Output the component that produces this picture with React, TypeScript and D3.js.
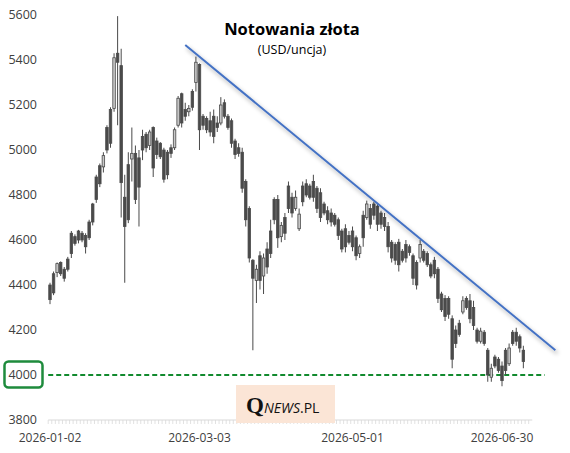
import * as d3 from 'd3';

// trading days (weekdays) starting 2026-01-02
const firstDay = new Date(2026, 0, 2);
const categoryCount = 136;
const fmt = d3.timeFormat('%Y-%m-%d');
const categories: string[] = d3
  .timeDay.range(firstDay, new Date(2026, 6, 31))
  .filter((d) => d.getDay() !== 0 && d.getDay() !== 6)
  .slice(0, categoryCount)
  .map((d) => fmt(d));

const xLabels = ['2026-01-02', '2026-03-03', '2026-05-01', '2026-06-30'];
const yTicks = [3800, 4000, 4200, 4400, 4600, 4800, 5000, 5200, 5400, 5600];

// [open, high, low, close]
const ohlc: [number, number, number, number][] = [
  [4400, 4410, 4315, 4335], [4450, 4460, 4355, 4365], [4455, 4500, 4435, 4495], [4500, 4505, 4440, 4450],
  [4470, 4480, 4415, 4430], [4515, 4525, 4460, 4470], [4630, 4640, 4520, 4540], [4615, 4625, 4575, 4585],
  [4640, 4645, 4585, 4600], [4630, 4640, 4590, 4600], [4620, 4630, 4540, 4570], [4680, 4690, 4600, 4610],
  [4760, 4765, 4665, 4680], [4880, 4890, 4765, 4780], [4930, 4940, 4835, 4850], [4925, 4990, 4900, 4975],
  [5100, 5110, 4985, 5000], [5180, 5190, 5010, 5030], [5185, 5430, 5170, 5410], [5430, 5595, 5110, 5390],
  [5375, 5450, 4700, 4855], [4790, 4890, 4410, 4660], [4935, 4990, 4675, 4690], [4960, 5100, 4860, 4985],
  [4985, 5020, 4760, 4780], [4965, 5000, 4660, 4835], [5060, 5090, 4955, 5000], [5070, 5080, 4990, 5010],
  [5020, 5090, 5000, 5080], [5100, 5105, 4880, 4920], [5040, 5055, 4960, 4980], [5030, 5035, 4960, 4970],
  [5000, 5010, 4855, 4870], [4990, 5000, 4870, 4890], [5010, 5025, 4965, 4985], [5010, 5100, 5000, 5090],
  [5110, 5240, 5100, 5230], [5250, 5255, 5100, 5120], [5180, 5210, 5130, 5150], [5170, 5200, 5150, 5185],
  [5260, 5270, 5175, 5190], [5300, 5415, 5260, 5390], [5380, 5385, 5000, 5090], [5150, 5160, 5090, 5110],
  [5140, 5150, 5075, 5090], [5130, 5170, 5060, 5080], [5150, 5180, 5030, 5060], [5120, 5150, 5080, 5100],
  [5120, 5235, 5110, 5200], [5210, 5225, 5140, 5150], [5150, 5160, 5090, 5100], [5130, 5140, 5010, 5030],
  [5040, 5050, 4960, 4980], [5010, 5030, 4970, 4985], [4990, 5010, 4810, 4830], [4860, 4870, 4660, 4690],
  [4740, 4750, 4500, 4520], [4510, 4515, 4110, 4430], [4420, 4490, 4320, 4470], [4530, 4550, 4380, 4420],
  [4440, 4540, 4360, 4520], [4560, 4590, 4450, 4480], [4640, 4690, 4520, 4540], [4780, 4790, 4670, 4690],
  [4780, 4800, 4565, 4610], [4615, 4680, 4590, 4665], [4700, 4720, 4600, 4630], [4840, 4860, 4720, 4740],
  [4790, 4810, 4700, 4720], [4740, 4820, 4730, 4790], [4650, 4740, 4640, 4715], [4840, 4860, 4750, 4770],
  [4850, 4870, 4790, 4800], [4840, 4850, 4780, 4790], [4860, 4890, 4770, 4790], [4830, 4840, 4720, 4740],
  [4810, 4830, 4680, 4700], [4760, 4770, 4710, 4720], [4730, 4750, 4670, 4690], [4720, 4740, 4660, 4680],
  [4710, 4720, 4660, 4670], [4690, 4700, 4600, 4620], [4640, 4650, 4545, 4560], [4650, 4670, 4545, 4570],
  [4620, 4640, 4580, 4590], [4640, 4660, 4550, 4570], [4610, 4620, 4510, 4530], [4540, 4580, 4520, 4570],
  [4710, 4730, 4570, 4610], [4700, 4775, 4690, 4760], [4740, 4760, 4650, 4670], [4760, 4770, 4690, 4710],
  [4750, 4765, 4640, 4670], [4720, 4730, 4650, 4670], [4700, 4720, 4640, 4660], [4660, 4680, 4545, 4570],
  [4590, 4600, 4500, 4520], [4580, 4590, 4490, 4510], [4590, 4605, 4460, 4490], [4550, 4560, 4500, 4510],
  [4580, 4600, 4500, 4520], [4570, 4580, 4530, 4545], [4530, 4540, 4400, 4430], [4500, 4510, 4380, 4400],
  [4520, 4600, 4500, 4580], [4550, 4560, 4500, 4510], [4540, 4550, 4480, 4490], [4490, 4500, 4430, 4440],
  [4510, 4525, 4430, 4450], [4470, 4480, 4320, 4340], [4360, 4370, 4280, 4290], [4340, 4355, 4240, 4260],
  [4340, 4350, 4250, 4270], [4250, 4265, 4030, 4070], [4200, 4220, 4120, 4140], [4230, 4245, 4170, 4180],
  [4280, 4350, 4270, 4330], [4340, 4350, 4290, 4300], [4330, 4360, 4230, 4250], [4300, 4330, 4200, 4220],
  [4200, 4210, 4140, 4150], [4150, 4210, 4140, 4195], [4190, 4200, 4130, 4140], [4110, 4120, 3970, 4000],
  [3990, 4050, 3970, 4030], [4080, 4090, 4030, 4040], [4070, 4080, 4010, 4020], [4040, 4060, 3950, 3975],
  [4110, 4120, 4000, 4020], [4050, 4140, 4040, 4120], [4190, 4200, 4130, 4140], [4190, 4210, 4130, 4150],
  [4170, 4180, 4100, 4120], [4110, 4130, 4030, 4060],
];

// trend line anchors: [category index, price]
const trendLine: [number, number][] = [[38, 5467], [142, 4110]];
const supportLevel = 4000;

const W = 570;
const H = 453;
const font = '"Open Sans", "Liberation Sans", sans-serif';
const ink = '#4a4a4a';

export default function App() {
  const x = d3.scaleLinear().domain([0, 127]).range([50, 502]);
  const y = d3.scaleLinear().domain([3800, 5600]).range([420, 15]);
  const bodyW = 2.5;

  const axisY = y(3800);
  const trend = d3
    .line<[number, number]>()
    .x((d) => x(d[0]))
    .y((d) => y(d[1]))(trendLine) || '';

  return (
    <svg width={W} height={H} style={{ position: 'absolute', left: 0, top: 0, background: '#fff' }}>
      <defs>
        <filter id="shadow" x="-10%" y="-10%" width="120%" height="130%">
          <feDropShadow dx="2" dy="3" stdDeviation="2" floodColor="#000" floodOpacity="0.35" />
        </filter>
      </defs>

      {/* y labels */}
      {yTicks.map((t) => (
        <text key={t} x={37} y={y(t)} dy="0.35em" textAnchor="end" fontFamily={font} fontSize={12.5} fill="#404040">
          {t}
        </text>
      ))}

      {/* x axis: light line with a tick per category */}
      <line x1={x(-0.5)} x2={x(categoryCount - 0.5)} y1={axisY} y2={axisY} stroke="#d9d9d9" strokeWidth={1} />
      {categories.map((c, i) => (
        <line key={c} x1={x(i - 0.5)} x2={x(i - 0.5)} y1={axisY} y2={axisY + 4} stroke="#d9d9d9" strokeWidth={0.8} />
      ))}
      {xLabels.map((lbl) => (
        <text key={lbl} x={x(categories.indexOf(lbl))} y={442} textAnchor="middle" fontFamily={font} fontSize={12} fill="#404040">
          {lbl}
        </text>
      ))}

      {/* support level */}
      <line
        x1={x(-0.5)}
        x2={x(139)}
        y1={y(supportLevel)}
        y2={y(supportLevel)}
        stroke="#128a2e"
        strokeWidth={2}
        strokeDasharray="5 3"
      />
      <rect x={4.5} y={y(supportLevel) - 13.5} width={38} height={26} rx={4} fill="#fff" stroke="#1e8b3c" strokeWidth={2.5} />
      <text x={37} y={y(supportLevel)} dy="0.35em" textAnchor="end" fontFamily={font} fontSize={12.5} fill="#404040">
        {supportLevel}
      </text>

      {/* candles */}
      {ohlc.map(([o, h, l, c], i) => {
        const up = c >= o;
        const cx = x(i);
        const top = y(Math.max(o, c));
        const bot = y(Math.min(o, c));
        return (
          <g key={i}>
            <line x1={cx} x2={cx} y1={y(h)} y2={y(l)} stroke={ink} strokeWidth={1} />
            <rect
              x={cx - bodyW / 2}
              y={top}
              width={bodyW}
              height={Math.max(bot - top, 1)}
              fill={up ? '#c8c8c8' : ink}
              stroke={ink}
              strokeWidth={0.8}
            />
          </g>
        );
      })}

      {/* trend line */}
      <path d={trend} fill="none" stroke="#4472c4" strokeWidth={2} filter="url(#shadow)" />

      {/* title */}
      <text x={292} y={35} textAnchor="middle" fontFamily={font} fontSize={16.5} fontWeight="bold" fill="#000">
        Notowania złota
      </text>
      <text x={292} y={54} textAnchor="middle" fontFamily={font} fontSize={12.5} fill="#000">
        (USD/uncja)
      </text>

      {/* watermark */}
      <rect x={236} y={385} width={99} height={38} fill="#fbe5d6" />
      <text x={246} y={413} fontFamily={font} fill="#111">
        <tspan fontFamily='"Liberation Serif", "DejaVu Serif", serif' fontWeight="bold" fontSize={23}>
          Q
        </tspan>
        <tspan fontStyle="italic" fontSize={14}>
          NEWS
        </tspan>
        <tspan fontSize={14}>.PL</tspan>
      </text>
    </svg>
  );
}
